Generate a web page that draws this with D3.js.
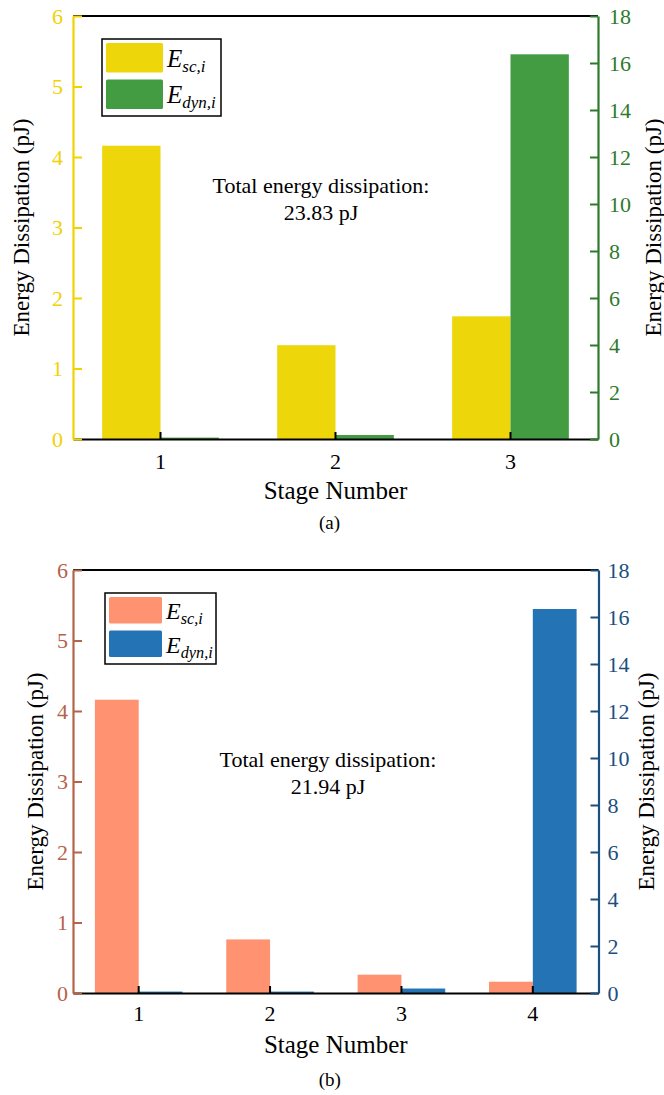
<!DOCTYPE html>
<html>
<head>
<meta charset="utf-8">
<script src="https://cdn.jsdelivr.net/npm/d3@7"></script>
<style>
  body { margin: 0; background: #fff; }
</style>
</head>
<body>
<svg id="chart" width="664" height="1095"></svg>
<script>
// panel (a)
const stagesA = ["1", "2", "3"];
const scA = [4.16, 1.33, 1.74];
const dynA = [0.06, 0.17, 16.37];
const totalA = "23.83 pJ";

// panel (b)
const stagesB = ["1", "2", "3", "4"];
const scB = [4.16, 0.76, 0.26, 0.16];
const dynB = [0.06, 0.06, 0.19, 16.34];
const totalB = "21.94 pJ";

const leftTicks = [0, 1, 2, 3, 4, 5, 6];
const rightTicks = [0, 2, 4, 6, 8, 10, 12, 14, 16, 18];

const FONT = "Liberation Serif";
const svg = d3.select("#chart");

function drawPanel(cfg) {
    const g = svg.append("g").attr("font-family", FONT);
    const {left, right, top, bottom} = cfg;

    const x = d3.scaleBand().domain(cfg.stages).range([left, right]).padding(0);
    const yL = d3.scaleLinear().domain([0, 6]).range([bottom, top]);
    const yR = d3.scaleLinear().domain([0, 18]).range([bottom, top]);
    const bw = x.bandwidth() / 3;
    const cx = d => x(d) + x.bandwidth() / 2;

    // bars
    g.selectAll(".sc").data(cfg.stages).join("rect")
        .attr("x", d => cx(d) - bw)
        .attr("width", bw)
        .attr("y", (d, i) => yL(cfg.sc[i]))
        .attr("height", (d, i) => bottom - yL(cfg.sc[i]))
        .attr("fill", cfg.scColor);
    g.selectAll(".dyn").data(cfg.stages).join("rect")
        .attr("x", d => cx(d))
        .attr("width", bw)
        .attr("y", (d, i) => yR(cfg.dyn[i]))
        .attr("height", (d, i) => bottom - yR(cfg.dyn[i]))
        .attr("fill", cfg.dynColor);

    // frame top + bottom (black)
    g.append("line").attr("x1", left).attr("x2", right).attr("y1", top).attr("y2", top)
        .attr("stroke", "#000").attr("stroke-width", 2);
    const xAxis = g.append("g").attr("transform", `translate(0,${bottom})`)
        .call(d3.axisBottom(x).tickSizeInner(-7).tickSizeOuter(0).tickPadding(cfg.xPad));
    xAxis.select(".domain").attr("stroke", "#000").attr("stroke-width", 2.2);
    xAxis.selectAll(".tick line").attr("stroke", "#000").attr("stroke-width", 2);
    xAxis.selectAll(".tick text").attr("font-size", 22).attr("fill", "#000")
        .attr("font-family", FONT);

    // left axis
    const la = g.append("g").attr("transform", `translate(${left},0)`)
        .call(d3.axisLeft(yL).tickValues(leftTicks).tickFormat(d3.format("d"))
            .tickSizeInner(-9).tickSizeOuter(0).tickPadding(cfg.leftPad));
    la.select(".domain").attr("stroke", cfg.leftAxisColor).attr("stroke-width", 2.2);
    la.selectAll(".tick line").attr("stroke", cfg.leftAxisColor).attr("stroke-width", 2);
    la.selectAll(".tick text").attr("font-size", 22).attr("fill", cfg.leftAxisColor)
        .attr("font-family", FONT);

    // right axis
    const ra = g.append("g").attr("transform", `translate(${right},0)`)
        .call(d3.axisRight(yR).tickValues(rightTicks).tickFormat(d3.format("d"))
            .tickSizeInner(-8).tickSizeOuter(0).tickPadding(cfg.rightPad));
    ra.select(".domain").attr("stroke", cfg.rightAxisColor).attr("stroke-width", 2.2);
    ra.selectAll(".tick line").attr("stroke", cfg.rightAxisColor).attr("stroke-width", 2);
    ra.selectAll(".tick text").attr("font-size", 22).attr("fill", cfg.rightAxisColor)
        .attr("font-family", FONT);

    // axis titles
    g.append("text")
        .attr("transform", `translate(${cfg.leftTitleX},${(top + bottom) / 2}) rotate(-90)`)
        .attr("text-anchor", "middle").attr("dominant-baseline", "central")
        .attr("font-family", FONT).attr("font-size", 23).text("Energy Dissipation (pJ)");
    g.append("text")
        .attr("transform", `translate(${cfg.rightTitleX},${(top + bottom) / 2}) rotate(-90)`)
        .attr("text-anchor", "middle").attr("dominant-baseline", "central")
        .attr("font-family", FONT).attr("font-size", 23).text("Energy Dissipation (pJ)");
    g.append("text")
        .attr("x", (left + right) / 2).attr("y", bottom + 60)
        .attr("text-anchor", "middle").attr("font-family", FONT).attr("font-size", 25)
        .text("Stage Number");
    g.append("text")
        .attr("x", (left + right) / 2 - 6).attr("y", cfg.captionY)
        .attr("text-anchor", "middle").attr("font-family", FONT).attr("font-size", 19)
        .text(cfg.caption);

    // total annotation
    g.append("text")
        .attr("x", cfg.totalX).attr("y", cfg.totalY)
        .attr("text-anchor", "middle").attr("font-family", FONT).attr("font-size", 22)
        .text("Total energy dissipation:");
    g.append("text")
        .attr("x", cfg.totalX).attr("y", cfg.totalY + 27)
        .attr("text-anchor", "middle").attr("font-family", FONT).attr("font-size", 22)
        .text(cfg.total);

    // legend
    const lg = g.append("g").attr("transform", `translate(${cfg.legend.x},${cfg.legend.y})`);
    lg.append("rect").attr("width", cfg.legend.w).attr("height", cfg.legend.h)
        .attr("fill", "#fff").attr("stroke", "#000").attr("stroke-width", 1.5);
    const items = [
        {sub: "sc,i", color: cfg.scColor},
        {sub: "dyn,i", color: cfg.dynColor}
    ];
    const rowH = cfg.legend.h / 2;
    items.forEach((it, i) => {
        lg.append("rect")
            .attr("x", 4).attr("y", 4 + i * (rowH - 2))
            .attr("width", cfg.legend.sw).attr("height", rowH - 9)
            .attr("rx", 1.5)
            .attr("fill", it.color);
        const t = lg.append("text")
            .attr("x", cfg.legend.sw + 8).attr("y", 4 + i * (rowH - 2) + rowH * 0.62)
            .attr("font-family", FONT).attr("font-size", cfg.legend.fs).attr("font-style", "italic");
        t.append("tspan").text("E");
        t.append("tspan").attr("font-size", cfg.legend.fs * 0.68).attr("dy", 5).text(it.sub);
    });
}

drawPanel({
    stages: stagesA, sc: scA, dyn: dynA, total: totalA,
    left: 73, right: 598, top: 16, bottom: 439,
    scColor: "#edd609", dynColor: "#439c41",
    leftAxisColor: "#f0d200", rightAxisColor: "#2e7a2c",
    leftPad: 10, rightPad: 11, xPad: 14,
    leftTitleX: 21, rightTitleX: 653,
    totalX: 321, totalY: 193,
    caption: "(a)", captionY: 529,
    legend: {x: 102, y: 39, w: 119, h: 77, sw: 57, fs: 25}
});

drawPanel({
    stages: stagesB, sc: scB, dyn: dynB, total: totalB,
    left: 73, right: 598.5, top: 570, bottom: 993,
    scColor: "#ff9270", dynColor: "#2473b4",
    leftAxisColor: "#b5634b", rightAxisColor: "#1c4f7f",
    leftPad: 5, rightPad: 9, xPad: 12,
    leftTitleX: 35, rightTitleX: 646,
    totalX: 328, totalY: 767,
    caption: "(b)", captionY: 1086,
    legend: {x: 105, y: 593, w: 111, h: 71, sw: 53, fs: 24}
});
</script>
</body>
</html>
